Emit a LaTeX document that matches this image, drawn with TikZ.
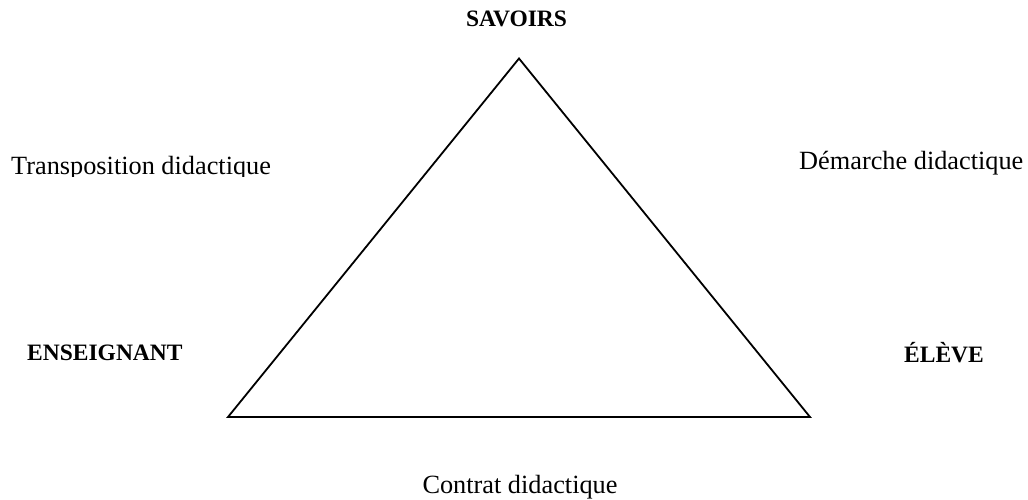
\documentclass[tikz,border=0pt]{standalone}
\usepackage{fontspec}
\setmainfont{Liberation Serif}
\begin{document}
\begin{tikzpicture}[x=1pt,y=-1pt,
  lbl/.style={inner sep=0pt,font=\fontsize{26.3}{30}\selectfont},
  vtx/.style={inner sep=0pt,font=\fontsize{23.5}{28}\selectfont\bfseries},
  side/.style={line width=1.8pt,line join=miter}]
\useasboundingbox[fill=white] (0,0) rectangle (1028,500);
\coordinate (top) at (519,58.5);
\coordinate (bl) at (228,417);
\coordinate (br) at (810,417);
\draw[side] (top) -- (bl) -- (br) -- cycle;
\node[vtx,anchor=base] (savoirs) at (516.5,26.5) {SAVOIRS};
\node[vtx,anchor=base west] (ens) at (27,360) {ENSEIGNANT};
\node[vtx,anchor=base west] (eleve) at (904,362) {ÉLÈVE};
\begin{scope}
\clip (0,100) rectangle (400,176.5);
\node[lbl,anchor=base west] (trans) at (11,175) {Transposition didactique};
\end{scope}
\node[lbl,anchor=base west] (dem) at (799,169) {Démarche didactique};
\node[lbl,anchor=base] (contrat) at (520,493.5) {Contrat didactique};
\end{tikzpicture}
\end{document}
